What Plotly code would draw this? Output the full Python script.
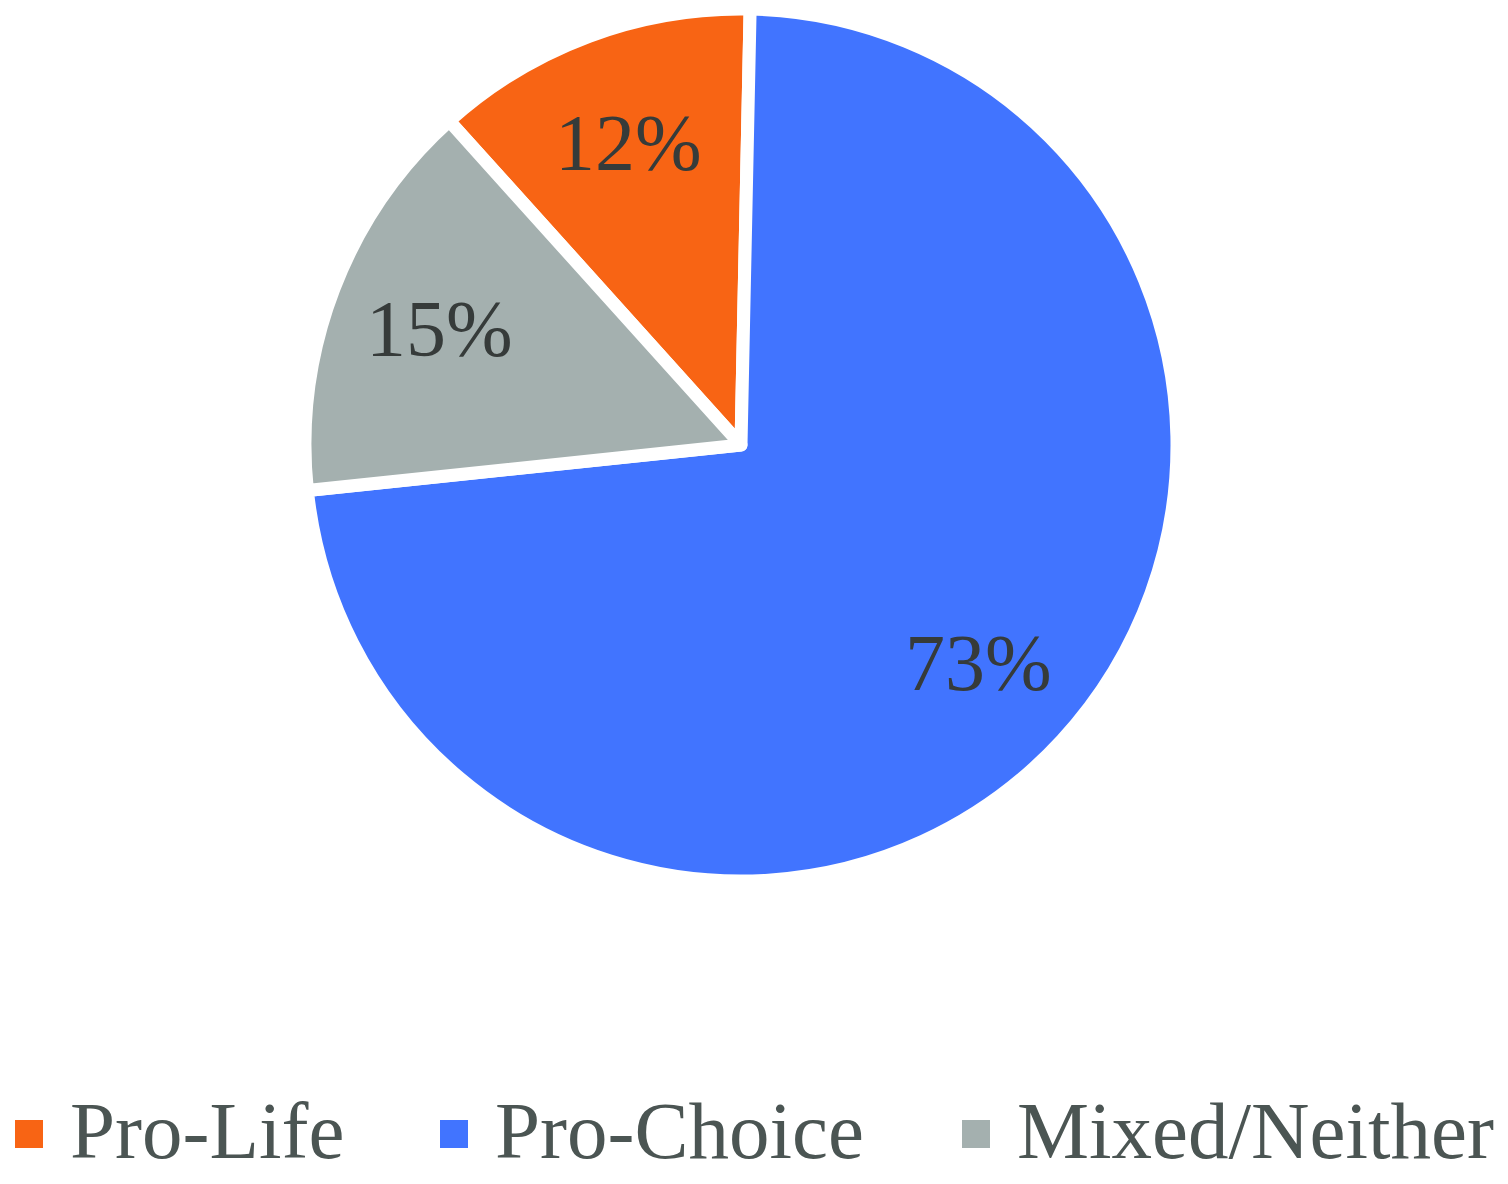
import math
import plotly.graph_objects as go

categories = ["Pro-Life", "Pro-Choice", "Mixed/Neither"]
values = [12, 73, 15]
colors = ["#F86414", "#4174FF", "#A4B0AF"]

W, H = 1508, 1184
cx, cy, r = 741, 445, 436
rotation = -42

fig = go.Figure(go.Pie(
    labels=categories,
    values=values,
    sort=False,
    direction="clockwise",
    rotation=rotation,
    marker=dict(colors=colors, line=dict(color="white", width=13)),
    textinfo="none",
    domain=dict(x=[(cx - r) / W, (cx + r) / W], y=[1 - (cy + r) / H, 1 - (cy - r) / H]),
    showlegend=False,
    hoverinfo="label+percent",
))

shapes, annotations = [], []

# percent labels placed along each slice's mid-angle
total = sum(values)
start = rotation
label_frac = 0.74
for v in values:
    span = 360 * v / total
    mid = math.radians(start + span / 2)
    lx = cx + label_frac * r * math.sin(mid)
    lyp = cy - label_frac * r * math.cos(mid)
    annotations.append(dict(xref="paper", yref="paper", x=lx / W, y=1 - lyp / H,
                            xanchor="center", yanchor="middle", showarrow=False,
                            text=f"{round(100 * v / total)}%",
                            font=dict(family="Liberation Serif", size=80, color="#363b3a")))
    start += span

# custom legend
sq_x = [15, 440, 962]
txt_x = [68, 493, 1015]
ly = 1134
for i, cat in enumerate(categories):
    shapes.append(dict(type="rect", xref="paper", yref="paper",
                       x0=sq_x[i] / W, x1=(sq_x[i] + 28) / W,
                       y0=1 - (ly + 14) / H, y1=1 - (ly - 14) / H,
                       fillcolor=colors[i], line=dict(width=0)))
    annotations.append(dict(xref="paper", yref="paper", x=txt_x[i] / W, y=1 - (ly - 3) / H,
                            xanchor="left", yanchor="middle", showarrow=False, text=cat,
                            font=dict(family="Liberation Serif", size=81, color="#4b5553")))

fig.update_layout(
    width=W, height=H,
    margin=dict(l=0, r=0, t=0, b=0),
    paper_bgcolor="white", plot_bgcolor="white",
    shapes=shapes, annotations=annotations,
)

fig.write_html("out.html")
